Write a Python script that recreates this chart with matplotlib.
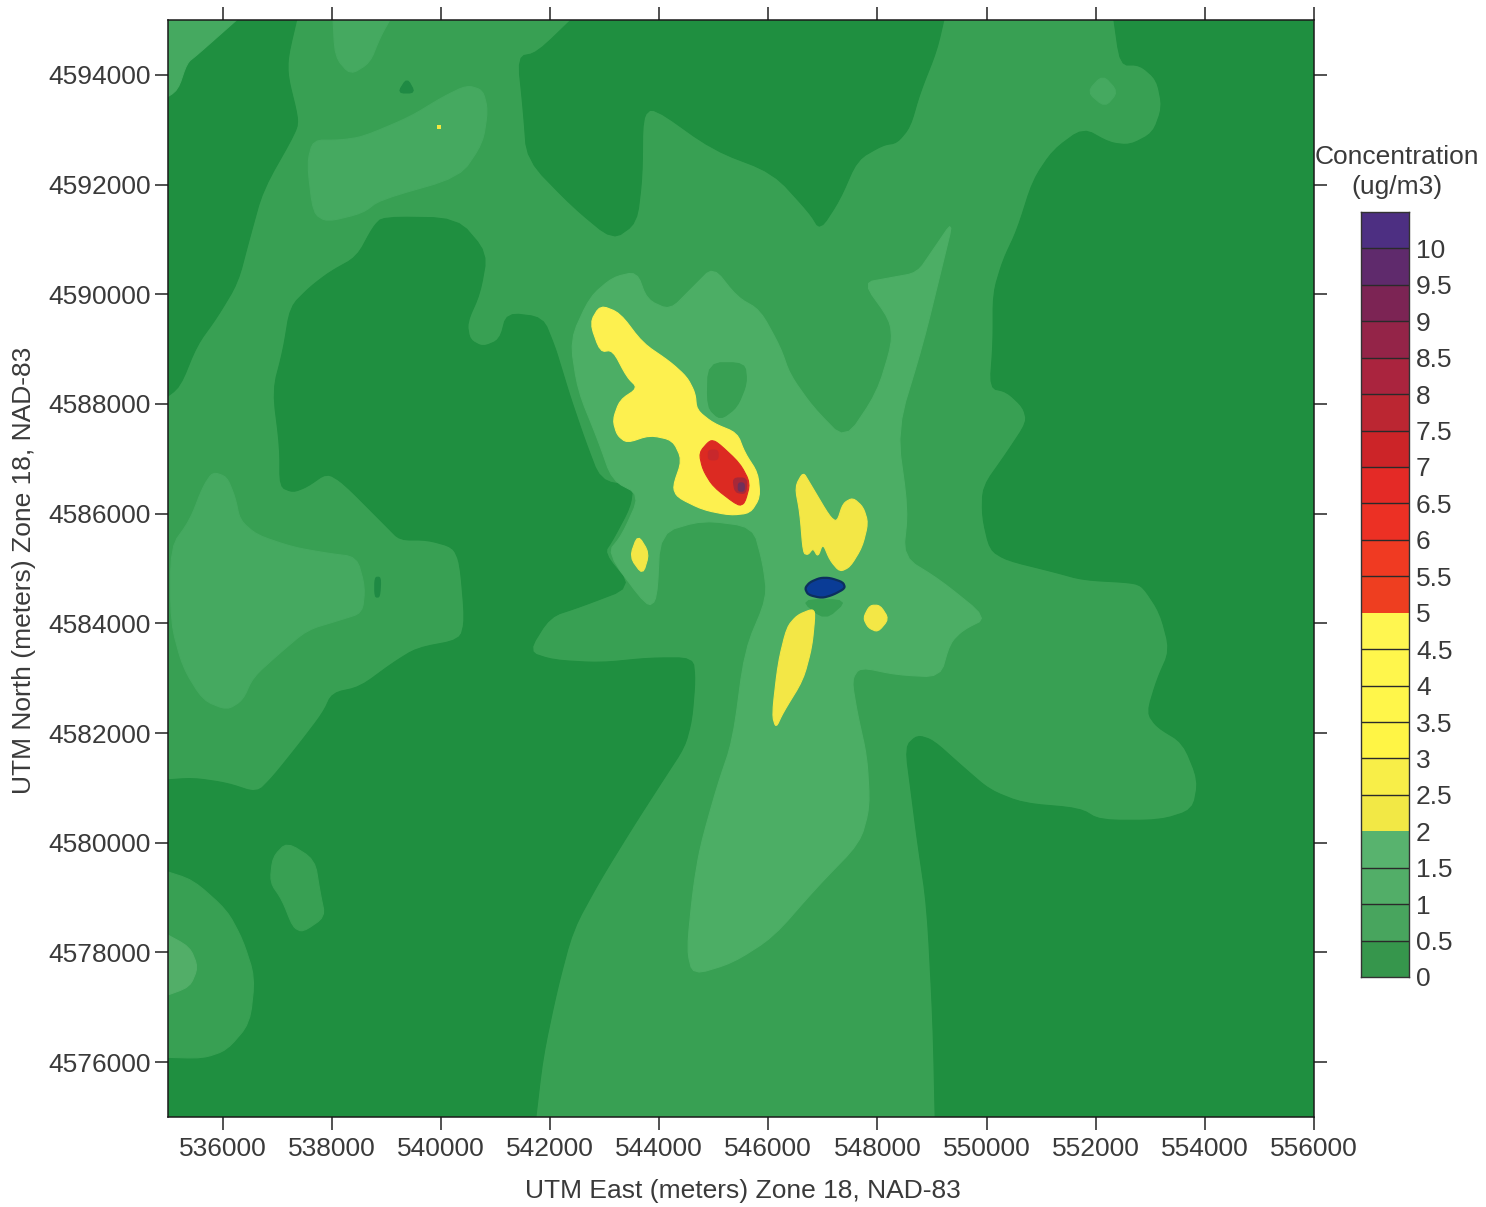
import matplotlib
matplotlib.use("Agg")
import matplotlib.pyplot as plt
from matplotlib.colors import ListedColormap, BoundaryNorm
import numpy as np

plt.rcParams['font.family'] = ['Liberation Sans', 'DejaVu Sans']

# ---------- values (UTM km: east, north) ----------
x_ticks = [536, 538, 540, 542, 544, 546, 548, 550, 552, 554, 556]
y_ticks = [4576, 4578, 4580, 4582, 4584, 4586, 4588, 4590, 4592, 4594]
levels = [0, .5, 1, 1.5, 2, 2.5, 3, 3.5, 4, 4.5, 5, 5.5, 6, 6.5, 7, 7.5, 8, 8.5, 9, 9.5, 10, 10.5]
level_labels = ['0', '0.5', '1', '1.5', '2', '2.5', '3', '3.5', '4', '4.5', '5', '5.5', '6', '6.5',
                '7', '7.5', '8', '8.5', '9', '9.5', '10']
level_colors = ['#36964c', '#48a55e', '#52ae68', '#58b36e', '#f2e845', '#f8ee48', '#fff545', '#fff64a',
                '#fff64c', '#fff650', '#ee3e20', '#f03a22', '#ec3024', '#e42a26', '#cc2428', '#bb2632',
                '#aa243e', '#942448', '#7c2454', '#5f2a6c', '#4d2f82']

DARK_TOP_LEFT = [(536.37,4595.1),(535.53,4594.36),(535.35,4594.22),(535.18,4593.72),(534.9,4593.54),(534.9,4588.07),
    (535.22,4588.31),(535.53,4589.07),(535.90,4589.58),(536.28,4590.21),(536.50,4591.04),(536.74,4591.90),
    (537.36,4592.99),(537.38,4593.23),(537.20,4593.96),(537.20,4594.33),(537.38,4595.1)]
DARK_TOP_MID = [(542.49,4595.1),(541.76,4594.40),(541.41,4594.33),(541.51,4593.36),(541.58,4592.45),(542.42,4591.59),
    (543.15,4590.99),(543.59,4591.30),(543.69,4592.14),(543.70,4593.23),(543.89,4593.41),(544.99,4592.63),
    (546.09,4592.21),(546.76,4591.48),(546.95,4591.17),(547.31,4591.72),(547.63,4592.45),(548.10,4592.72),
    (548.36,4592.76),(548.60,4593.05),(548.78,4593.67),(549.09,4594.45),(549.24,4595.1)]
DARK_LEFT = [(538.94,4591.41),(540.30,4591.39),(540.85,4590.75),(540.72,4590.02),(540.48,4589.48),(540.53,4589.17),
    (540.77,4589.04),(541.08,4589.17),(541.21,4589.66),(541.87,4589.58),(542.09,4589.04),(542.22,4588.62),
    (542.37,4588.13),(542.64,4587.34),(542.92,4586.61),(543.52,4586.49),(543.47,4586.12),(543.15,4585.52),
    (542.99,4585.28),(543.50,4584.66),(542.55,4584.30),(542.00,4584.12),(541.60,4583.48),(542.06,4583.33),
    (542.92,4583.28),(543.83,4583.37),(544.62,4583.37),(544.66,4582.97),(544.60,4582.24),(544.47,4581.75),
    (544.07,4581.14),(543.52,4580.29),(542.92,4579.32),(542.42,4578.41),(542.13,4577.32),(541.87,4576.09),
    (541.73,4574.9),(534.9,4574.9),(534.9,4581.14),(535.46,4581.18),(536.08,4581.09),(536.63,4580.91),
    (536.92,4581.20),(537.42,4581.82),(537.84,4582.37),(538.01,4582.73),(538.52,4582.84),(539.12,4583.28),
    (539.56,4583.55),(540.35,4583.70),(540.44,4584.06),(540.35,4585.10),(540.22,4585.39),(539.75,4585.52),
    (539.25,4585.52),(539.01,4585.76),(538.21,4586.56),(537.91,4586.74),(537.55,4586.49),(537.29,4586.39),
    (537.05,4586.49),(537.05,4587.21),(536.92,4588.25),(537.11,4588.98),(537.24,4589.77),(537.60,4590.13),
    (537.97,4590.41),(538.46,4590.68),(538.76,4591.23)]
DARK_RIGHT = [(552.32,4595.1),(552.45,4594.18),(552.81,4594.18),(553.12,4593.91),(553.22,4593.41),(553.05,4592.94),
    (552.63,4592.72),(552.26,4592.76),(551.77,4593.03),(551.22,4592.63),(550.85,4592.08),(550.56,4591.17),
    (550.30,4590.62),(550.12,4590.02),(550.12,4589.11),(550.06,4588.29),(550.37,4588.22),(550.67,4587.94),
    (550.74,4587.67),(550.37,4587.11),(549.93,4586.49),(549.92,4585.94),(550.06,4585.34),(550.37,4585.15),
    (551.22,4584.94),(551.77,4584.79),(552.68,4584.74),(552.87,4584.66),(553.18,4584.19),(553.36,4583.51),
    (553.12,4582.97),(552.94,4582.37),(553.12,4582.11),(553.60,4581.82),(553.88,4581.14),(553.78,4580.60),
    (553.18,4580.41),(552.08,4580.41),(551.71,4580.63),(550.67,4580.72),(550.06,4580.96),(549.57,4581.38),
    (549.02,4581.87),(548.73,4581.96),(548.51,4581.75),(548.63,4580.83),(548.73,4580.05),(548.91,4578.83),
    (549.02,4576.71),(549.06,4574.9),(556.1,4574.9),(556.1,4595.1)]
DARK_TRIANGLE = [(539.21,4593.67),(539.38,4593.94),(539.53,4593.67)]
DARK_SPOT = [(538.79,4584.84),(538.90,4584.84),(538.88,4584.48),(538.79,4584.48)]

MID_CORNER_BLOB = [(534.9,4579.50),(535.46,4579.32),(536.08,4578.77),(536.37,4578.23),(536.59,4577.55),(536.50,4576.71),
    (536.08,4576.22),(535.64,4576.07),(534.9,4576.09)]
MID_ISLAND = [(537.18,4580.01),(537.69,4579.69),(537.79,4579.08),(537.88,4578.65),(537.47,4578.37),(537.29,4578.46),
    (537.09,4578.96),(536.87,4579.28),(536.92,4579.74)]
MID_HOLE = [(544.90,4588.75),(545.57,4588.75),(545.61,4588.38),(545.43,4587.94),(545.12,4587.71),(544.88,4587.94)]
MID_SHADOW = [(546.58,4584.43),(547.46,4584.43),(547.04,4584.06)]

LIGHT_TL_CORNER = [(534.9,4595.1),(536.37,4595.1),(535.53,4594.36),(535.35,4594.22),(535.18,4593.72),(534.9,4593.54)]
LIGHT_TOP_BUMP = [(538.02,4595.1),(538.06,4594.33),(538.34,4594.00),(538.70,4594.22),(538.89,4594.69),(539.12,4595.1)]
LIGHT_NW_BLOB = [(537.66,4592.81),(537.55,4592.39),(537.66,4591.48),(537.91,4591.32),(538.57,4591.48),(538.88,4591.72),
    (540.35,4592.14),(540.77,4592.76),(540.86,4593.36),(540.77,4593.72),(540.48,4593.81),(540.04,4593.60),
    (539.43,4593.23),(538.57,4592.87),(538.15,4592.81)]
LIGHT_W_BLOB = [(535.64,4586.49),(535.82,4586.76),(536.08,4586.67),(536.23,4586.30),(536.32,4585.88),(536.63,4585.61),
    (537.29,4585.39),(537.91,4585.28),(538.46,4585.21),(538.61,4584.66),(538.56,4584.19),(538.15,4584.06),
    (537.55,4583.88),(537.05,4583.46),(536.56,4583.02),(536.37,4582.60),(536.08,4582.42),(535.64,4582.60),
    (535.27,4583.20),(535.05,4584.01),(535.05,4585.39),(535.40,4585.88)]
LIGHT_CORNER_CORE = [(534.9,4578.37),(535.40,4578.10),(535.55,4577.73),(535.40,4577.37),(534.9,4577.19)]
LIGHT_DIAMOND = [(552.13,4594.00),(552.41,4593.69),(552.17,4593.41),(551.84,4593.69)]

CENTRE = [(542.37,4589.17),(542.73,4589.95),(543.15,4590.31),(543.59,4590.41),(543.78,4589.90),(544.20,4589.71),
    (544.62,4590.13),(544.99,4590.50),(545.43,4589.95),(545.85,4589.71),(546.22,4589.04),(546.40,4588.53),
    (546.82,4587.94),(547.41,4587.34),(547.99,4588.20),(548.27,4589.11),(548.23,4589.53),(547.74,4590.21),
    (548.23,4590.30),(548.73,4590.39),(549.02,4590.81),(549.39,4591.35),(549.20,4590.57),(548.84,4589.11),
    (548.36,4587.53),(548.56,4586.07),(548.47,4585.21),(549.15,4584.79),(550.01,4584.10),(549.57,4583.88),
    (549.33,4583.64),(549.15,4583.02),(548.36,4583.06),(547.68,4583.20),(547.53,4582.97),(547.63,4582.37),
    (547.81,4581.56),(547.86,4580.65),(547.68,4580.00),(546.89,4579.19),(546.09,4578.28),(545.35,4577.81),
    (544.62,4577.59),(544.51,4578.04),(544.62,4579.14),(544.75,4579.92),(545.06,4581.02),(545.35,4581.87),
    (545.57,4583.51),(545.98,4584.48),(545.90,4585.10),(545.72,4585.76),(544.80,4585.88),(544.02,4585.65),
    (543.96,4584.43),(543.78,4584.30),(543.05,4585.28),(543.32,4585.61),(543.65,4586.34),(543.14,4586.61),
    (542.88,4587.34),(542.51,4588.25)]

YELLOW_PLUME = [(542.92,4589.80),(543.28,4589.66),(543.70,4589.11),(544.20,4588.77),(544.51,4588.49),(544.66,4588.20),
    (544.69,4587.89),(544.99,4587.65),(545.43,4587.47),(545.57,4587.11),(545.81,4586.74),(545.85,4586.30),
    (545.67,4586.01),(545.30,4585.97),(544.80,4586.07),(544.33,4586.30),(544.25,4586.49),(544.42,4586.98),
    (544.25,4587.34),(543.83,4587.43),(543.41,4587.29),(543.23,4587.43),(543.15,4587.71),(543.28,4588.07),
    (543.61,4588.29),(543.41,4588.49),(543.15,4588.98),(542.92,4588.95),(542.73,4589.48)]
YELLOW_SMALL_W = [(543.61,4585.62),(543.82,4585.28),(543.70,4584.88),(543.46,4585.21)]
YELLOW_W_SHAPE = [(546.64,4586.76),(546.76,4586.56),(547.13,4585.94),(547.26,4585.85),(547.37,4586.19),(547.55,4586.29),
    (547.74,4586.12),(547.83,4585.83),(547.72,4585.39),(547.50,4585.03),(547.31,4584.94),(547.13,4585.15),
    (547.00,4585.46),(546.91,4585.21),(546.82,4585.37),(546.73,4585.25),(546.64,4585.28),(546.58,4586.01),
    (546.49,4586.49)]
YELLOW_STREAK = [(546.80,4584.26),(546.86,4584.19),(546.80,4583.57),(546.64,4582.97),(546.27,4582.37),(546.14,4582.09),
    (546.07,4582.33),(546.18,4583.28),(546.34,4583.93),(546.53,4584.15)]
YELLOW_SPOT_E = [(547.86,4584.33),(548.05,4584.33),(548.21,4584.08),(548.01,4583.84),(547.83,4583.92),(547.74,4584.10)]
YELLOW_DOT_E = [539.97]
YELLOW_DOT_N = [4593.05]

RED_CORE = [(544.93,4587.34),(545.06,4587.31),(545.48,4586.92),(545.67,4586.56),(545.57,4586.19),(545.45,4586.14),
    (544.99,4586.49),(544.80,4586.80),(544.73,4587.11)]
RED_SPOT_A = [(544.90,4587.16),(545.08,4587.16),(545.08,4586.98),(544.90,4586.98)]
CRIMSON_SPOT = [(545.35,4586.65),(545.61,4586.65),(545.59,4586.36),(545.39,4586.39)]
PURPLE_SPOT = [(545.45,4586.56),(545.56,4586.56),(545.56,4586.41),(545.45,4586.41)]
BLUE_CORE = [(546.76,4584.75),(546.95,4584.83),(547.13,4584.83),(547.37,4584.75),(547.41,4584.64),(547.19,4584.52),
    (546.98,4584.46),(546.73,4584.52),(546.67,4584.64)]

# ---------- colours ----------
C_DARK = '#1f8f40'
C_MID = '#38a053'
C_LIGHT = '#45a960'
C_CENTRE = '#4cae65'
C_YELLOW = '#f3e746'
C_PLUME = '#fdf04f'
TEXT = '#3a3a3a'
FS = 19

X_MIN, X_MAX, Y_MIN, Y_MAX = 535000, 556000, 4575000, 4595000


def round_corners(pts, cut=0.2, passes=2):
    """Corner-cut an outline so contour edges look curved; vertices beyond the frame stay put."""
    p = [tuple(v) for v in pts]
    for _ in range(passes):
        out = []
        n = len(p)
        for i in range(n):
            a, b, c = np.array(p[i - 1]), np.array(p[i]), np.array(p[(i + 1) % n])
            off = not (X_MIN / 1000 <= b[0] <= X_MAX / 1000 and Y_MIN / 1000 <= b[1] <= Y_MAX / 1000)
            if off:
                out.append(tuple(b))
            else:
                out.append(tuple(b + cut * (a - b)))
                out.append(tuple(b + cut * (c - b)))
        p = out
    return np.array(p)


W, H = 1486, 1207
fig = plt.figure(figsize=(W / 100, H / 100), dpi=100, facecolor='white')
L, R, T, B = 168, 1314, 20, 1117
ax = fig.add_axes([L / W, 1 - B / H, (R - L) / W, (B - T) / H])
ax.set_facecolor(C_MID)

layers = [
    (DARK_TOP_LEFT, C_DARK), (DARK_TOP_MID, C_DARK), (DARK_LEFT, C_DARK), (DARK_RIGHT, C_DARK),
    (DARK_TRIANGLE, '#1f8a44'), (DARK_SPOT, '#1f8a44'),
    (LIGHT_TL_CORNER, C_LIGHT), (MID_CORNER_BLOB, C_MID), (MID_ISLAND, C_MID),
    (LIGHT_TOP_BUMP, C_LIGHT), (LIGHT_NW_BLOB, C_LIGHT), (LIGHT_W_BLOB, C_LIGHT),
    (LIGHT_CORNER_CORE, '#52ae68'), (LIGHT_DIAMOND, C_LIGHT),
    (CENTRE, C_CENTRE), (MID_HOLE, C_MID), (MID_SHADOW, C_MID),
    (YELLOW_PLUME, C_PLUME), (YELLOW_SMALL_W, C_YELLOW), (YELLOW_W_SHAPE, C_YELLOW),
    (YELLOW_STREAK, C_YELLOW), (YELLOW_SPOT_E, C_YELLOW),
    (RED_CORE, '#dc2a22'), (RED_SPOT_A, '#c8282c'), (CRIMSON_SPOT, '#a82838'), (PURPLE_SPOT, '#70305a'),
]
for pts, colour in layers:
    arr = round_corners(pts) * 1000
    ax.fill(arr[:, 0], arr[:, 1], facecolor=colour, edgecolor=colour, linewidth=0.8, joinstyle='round')
blue = round_corners(BLUE_CORE) * 1000
ax.fill(blue[:, 0], blue[:, 1], facecolor='#0a3c96', edgecolor='#0c2f5e', linewidth=1.6, joinstyle='round')
ax.plot(np.array(YELLOW_DOT_E) * 1000, np.array(YELLOW_DOT_N) * 1000, 's', ms=2.5, color='#f5e840', mew=0)

ax.set_xlim(X_MIN, X_MAX)
ax.set_ylim(Y_MIN, Y_MAX)
ax.set_xticks(np.array(x_ticks) * 1000)
ax.set_yticks(np.array(y_ticks) * 1000)
ax.set_xticklabels([str(v * 1000) for v in x_ticks])
ax.set_yticklabels([str(v * 1000) for v in y_ticks])
ax.tick_params(axis='both', which='major', length=9.5, width=1.1, color='#222222', top=True, right=True,
               labelsize=FS, labelcolor=TEXT, pad=3)
ax.tick_params(axis='x', pad=5)
for s in ax.spines.values():
    s.set_linewidth(1.1)
    s.set_color('#1a1a1a')
ax.set_xlabel('UTM East (meters) Zone 18, NAD-83', fontsize=FS, color=TEXT)
ax.xaxis.set_label_coords((743 - L) / (R - L), -(1191 - B) / (B - T), transform=ax.transAxes)
ax.xaxis.label.set_va('center')
ax.set_ylabel('UTM North (meters) Zone 18, NAD-83', fontsize=FS, color=TEXT)
ax.yaxis.set_label_coords(-(L - 24) / (R - L), (B - 570) / (B - T), transform=ax.transAxes)
ax.yaxis.label.set_va('center')

# ---------- colour scale ----------
cL, cR, cT, cB = 1361, 1409, 212, 977
cax = fig.add_axes([cL / W, 1 - cB / H, (cR - cL) / W, (cB - cT) / H])
cmap = ListedColormap(level_colors)
norm = BoundaryNorm(levels, cmap.N)
cax.pcolormesh([0, 1], levels, np.array(levels[:-1]).reshape(-1, 1) + 0.01, cmap=cmap, norm=norm)
for v in levels[1:-1]:
    if v not in (2, 5):
        cax.axhline(v, color='#2a2a2a', lw=1.0)
cax.set_xlim(0, 1)
cax.set_ylim(0, 10.5)
cax.set_xticks([])
cax.yaxis.tick_right()
cax.set_yticks(levels[:-1])
cax.set_yticklabels(level_labels)
cax.tick_params(axis='y', length=0, labelsize=FS, labelcolor=TEXT, pad=5)
for s in cax.spines.values():
    s.set_linewidth(1.0)
    s.set_color('#333333')

fig.text(1397 / W, 1 - 157 / H, 'Concentration', fontsize=FS, color=TEXT, ha='center', va='center')
fig.text(1397 / W, 1 - 187 / H, '(ug/m3)', fontsize=FS, color=TEXT, ha='center', va='center')

fig.savefig('out.png', dpi=100)
